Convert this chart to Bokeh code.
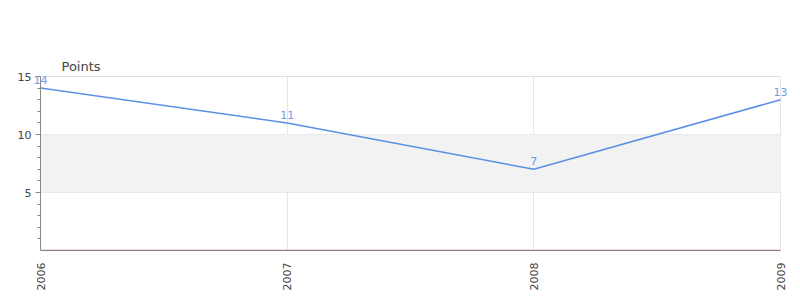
import math
from bokeh.plotting import figure
from bokeh.models import ColumnDataSource, BoxAnnotation, FixedTicker, LabelSet, Range1d, Title, LinearAxis
from bokeh.core.properties import value
from bokeh.embed import file_html
from bokeh.resources import INLINE

years = [2006, 2007, 2008, 2009]
points = [14, 11, 7, 13]
point_labels = ["14", "11", "7", "13"]
y_ticks = [5, 10, 15]
y_minor = [1, 2, 3, 4, 6, 7, 8, 9, 11, 12, 13, 14]

BLUE = "#5b8fe6"
LABEL_BLUE = "#6f9be8"
FONT = "DejaVu Sans"

# layout: frame spans x 33..800, y 73..250; 2006->40px, 2009->780px, 0->250px, 15->76px
FRAME_LEFT = 33
FRAME_TOP = 73
PX_PER_YEAR = (780 - 40) / 3.0
PX_PER_UNIT = (250 - 76) / 15.0
x0 = years[0] - (40 - FRAME_LEFT) / PX_PER_YEAR
x1 = years[-1] + 20 / PX_PER_YEAR
y1 = 15 + (76 - FRAME_TOP) / PX_PER_UNIT

p = figure(width=800, height=300, output_backend="svg", toolbar_location=None,
           x_range=Range1d(x0, x1), y_range=Range1d(0, y1),
           min_border_left=FRAME_LEFT, min_border_right=0, min_border_top=FRAME_TOP, min_border_bottom=50)
p.outline_line_color = None
p.background_fill_color = "white"

t = Title(text="Points", align="left", offset=28, text_font=FONT, text_font_size="13px",
          text_color="#444444", text_font_style="normal", standoff=0)
p.add_layout(t, "above")

p.add_layout(BoxAnnotation(left=years[0], right=years[-1], bottom=5, top=10,
                           fill_color="#f2f2f2", fill_alpha=1, line_color=None, level="underlay"))
# red baseline at zero, bounded to the category span
p.add_layout(BoxAnnotation(left=years[0], right=years[-1], bottom=0, top=0,
                           fill_color=None, line_color="#e02020", line_width=2, level="underlay"))

src = ColumnDataSource(dict(x=years, y=points, t=point_labels))
p.line("x", "y", source=src, line_color=BLUE, line_width=1.5)
p.add_layout(LabelSet(x="x", y="y", text="t", source=src, text_color=LABEL_BLUE, text_font=value(FONT),
                      text_font_size="11px", text_align="center", text_baseline="bottom",
                      y_offset=4, level="overlay"))

# grids
p.xgrid.ticker = FixedTicker(ticks=years)
p.xgrid.grid_line_color = "#e6e6e6"
p.xgrid.cross_bounds = (0, 15)
p.ygrid.ticker = FixedTicker(ticks=y_ticks)
p.ygrid.grid_line_color = "#e0e0e0"
p.ygrid.cross_bounds = (years[0], years[-1])

# x axis (gray baseline under the red line)
p.xaxis.ticker = FixedTicker(ticks=years)
p.xaxis.bounds = (years[0], years[-1])
p.xaxis.axis_line_color = "#808080"
p.xaxis.axis_line_width = 1
p.xaxis.major_tick_line_color = None
p.xaxis.minor_tick_line_color = None
p.xaxis.major_tick_out = 0
p.xaxis.minor_tick_out = 0
p.xaxis.major_label_orientation = math.pi / 2
p.xaxis.major_label_text_font = FONT
p.xaxis.major_label_text_font_size = "11px"
p.xaxis.major_label_text_color = "#444444"
p.xaxis.major_label_standoff = 12

# y axis labels (panel axis, labels only)
ya = p.yaxis[0]
ya.ticker = FixedTicker(ticks=y_ticks)
ya.axis_line_color = None
ya.major_tick_line_color = None
ya.minor_tick_line_color = None
ya.major_tick_out = 0
ya.minor_tick_out = 0
ya.major_tick_in = 0
ya.minor_tick_in = 0
ya.major_label_text_font = FONT
ya.major_label_text_font_size = "11px"
ya.major_label_text_color = "#444444"
ya.major_label_standoff = 2

# y axis line and ticks at 2006
yl = LinearAxis(fixed_location=years[0], bounds=(0, 15),
                ticker=FixedTicker(ticks=y_ticks, minor_ticks=y_minor),
                axis_line_color="#888888", major_tick_line_color="#888888",
                minor_tick_line_color="#888888", major_tick_out=5, major_tick_in=0,
                minor_tick_out=3, minor_tick_in=0, major_label_text_alpha=0,
                major_label_text_font_size="11px")
p.add_layout(yl, "left")

open("out.html", "w").write(file_html(p, INLINE))
